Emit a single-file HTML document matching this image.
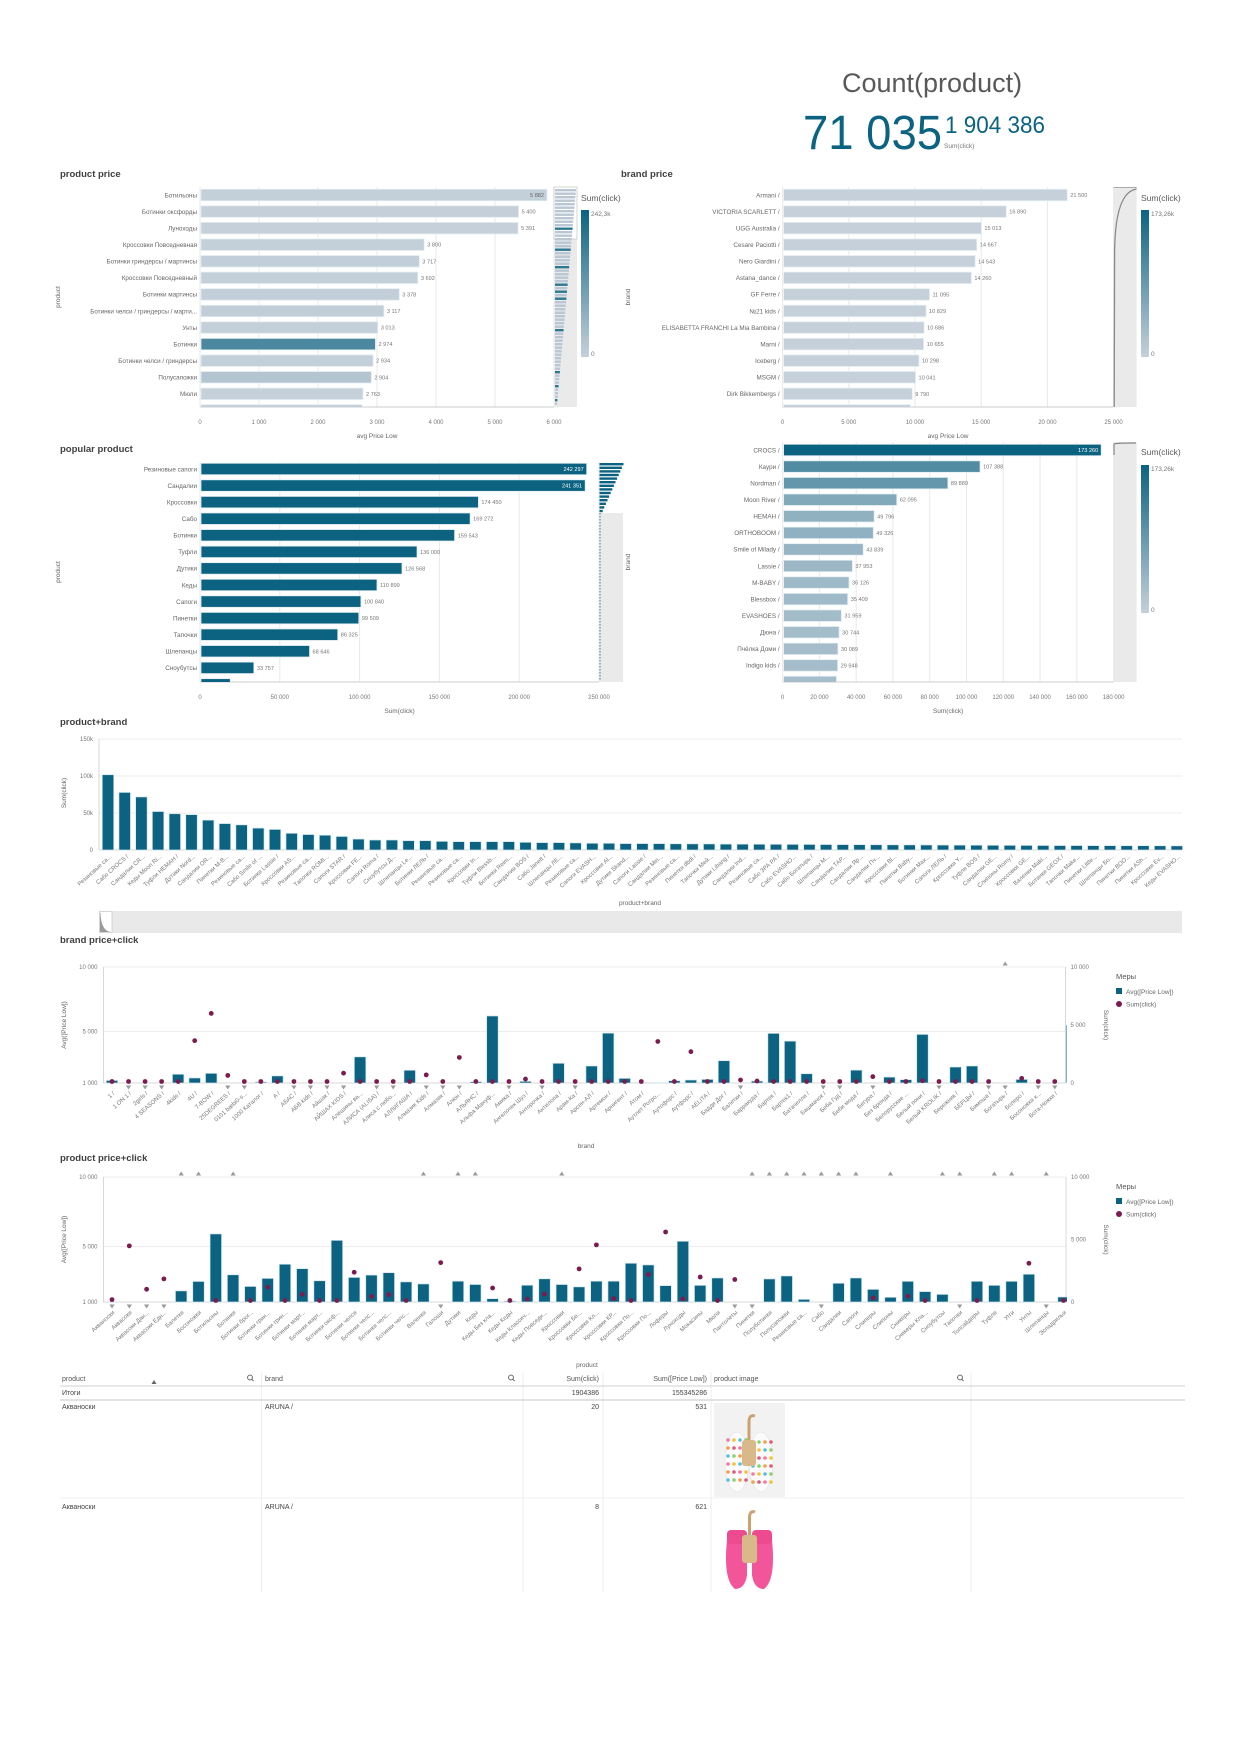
<!DOCTYPE html>
<html><head><meta charset="utf-8">
<style>
html,body{margin:0;padding:0;background:#fff;}
svg{display:block;font-family:"Liberation Sans","Noto Sans CJK SC",sans-serif;}
</style></head>
<body>
<svg id="dash" width="1240" height="1754" viewBox="0 0 1240 1754" xmlns="http://www.w3.org/2000/svg">
<defs>
<linearGradient id="legGrad" x1="0" y1="0" x2="0" y2="1"><stop offset="0" stop-color="#0b6381"/><stop offset="1" stop-color="#c5d0da"/></linearGradient>
</defs>
<g>
<text x="842" y="92" font-size="27" fill="#595959">Count(product)</text>
<text x="803" y="149" font-size="48" fill="#0b6381" textLength="139" lengthAdjust="spacingAndGlyphs">71 035</text>
<text x="945" y="133" font-size="24" fill="#0b6381" textLength="100" lengthAdjust="spacingAndGlyphs">1 904 386</text>
<text x="944" y="148" font-size="6.5" fill="#777">Sum(click)</text>
</g>
</svg>
<script>
// ---------- DATA ----------
const productPriceCats=["Ботильоны","Ботинки оксфорды","Луноходы","Кроссовки Повседневная","Ботинки гриндерсы / мартинсы","Кроссовки Повседневный","Ботинки мартинсы","Ботинки челси / гриндерсы / марти...","Унты","Ботинки","Ботинки челси / гриндерсы","Полусапожки","Мюли",""];
const productPriceVals=[5882,5400,5391,3800,3717,3692,3378,3117,3013,2974,2934,2904,2763,2750];
const productPriceClicks=[2000,1500,240,3000,4000,2500,3500,5000,3100,159543,2000,25000,50,3000];
const productPriceTicks=[0,1000,2000,3000,4000,5000,6000];

const brandPriceCats=["Armani /","VICTORIA SCARLETT /","UGG Australia /","Cesare Paciotti /","Nero Giardini /","Astana_dance /","GF Ferre /","№21 kids /","ELISABETTA FRANCHI La Mia Bambina /","Marni /","Iceberg /","MSGM /","Dirk Bikkembergs /",""];
const brandPriceVals=[21500,16890,15013,14667,14543,14260,11095,10829,10686,10655,10298,10041,9790,9650];
const brandPriceTicks=[0,5000,10000,15000,20000,25000];

const popularCats=["Резиновые сапоги","Сандалии","Кроссовки","Сабо","Ботинки","Туфли","Дутики","Кеды","Сапоги","Пинетки","Тапочки","Шлепанцы","Сноубутсы",""];
const popularVals=[242297,241351,174450,169272,159543,136000,126568,110899,100840,99509,86325,68646,33757,19000];
const popularTicks=[0,50000,100000,150000,200000,250000];

const brandClickCats=["CROCS /","Каури /","Nordman /","Moon River /","HEMAH /","ORTHOBOOM /","Smile of Milady /","Lassie /","M-BABY /","Blessbox /","EVASHOES /","Дюна /","Пчёлка Доми /","Indigo kids /",""];
const brandClickVals=[173260,107388,89889,62095,49796,49326,43839,37953,36126,35409,31959,30744,30089,29948,29300];
const brandClickTicks=[0,20000,40000,60000,80000,100000,120000,140000,160000,180000];

const pbCats=["Резиновые са...","Сабо CROCS /","Сандалии CR...","Кеды Moon Ri...","Туфли HEMAH /","Дутики Nord...","Сандалии OR...","Пинетки M-B...","Резиновые са...","Сабо Smile of ...","Ботинки Lassie /","Кроссовки AS...","Резиновые са...","Тапочки ROMI...","Сапоги STAR /","Кроссовки FE...","Сапоги Roma /","Сноубутсы Д...","Шлепанцы Le...","Ботинки ЛЕЛЬ /","Резиновые са...","Резиновые са...","Кроссовки In...","Туфли Blessb...","Ботинки Reim...","Сандалии BOS /","Сабо Janett /","Шлепанцы ЛЕ...","Резиновые са...","Сапоги EVASH...","Кроссовки Al...","Дутики Skand...","Сапоги Lassie /","Сандалии Min...","Резиновые са...","Пинетки dbdi /","Тапочки Мей...","Дутики Libang /","Сандалии Ind...","Резиновые са...","Сабо ЗРА РА /","Сабо EVASHO...","Сабо Богатырь /","Шлепанцы M...","Сандалии ТАР...","Сандалии Яр...","Сандалии Пч...","Кроссовки Bl...","Пинетки Baby...","Ботинки Max...","Сапоги ЛЕЛЬ /","Кроссовки Y...","Туфли BOS /","Сандалии GE...","Слипоны Romy /","Кроссовки GE...","Валенки Maki...","Ботинки GEOX /","Тапочки Make...","Пинетки Little...","Шлепанцы Бо...","Пинетки BOO...","Пинетки ASh...","Кроссовки Ev...","Кеды EVASHO..."];
const pbVals=[101.7,77.8,71.7,52,49,47.8,40.4,35.7,34,29.6,27.8,22.6,20.9,20,18.3,14.8,13.5,13.5,12.6,12.6,11.7,11.3,11.3,11.3,11.3,10.4,10,10,9.6,9.1,9.1,8.7,8.7,8.6,8.4,8.3,8.2,8.0,7.9,7.8,7.7,7.6,7.5,7.4,7.3,7.2,7.1,7.0,6.9,6.8,6.7,6.6,6.5,6.4,6.3,6.2,6.1,6.0,6.0,5.9,5.9,5.8,5.8,5.7,5.6];
const pbTicks=[0,50,100,150];
const pbTickLabels=["0","50k","100k","150k"];

const bcCats=["1 /","1 ON 1 /","2girls /","4 SEASONS /","4kids /","4U /","7-BOW /","25DEGREES /","0101 bæbi0-s...","1000 Каталог /","A /","АБАС /","АБВ kids /","Айшак /","АЙШАХ KIDS /","Алёшины ва...","АЛИСА (ALISA) /","Алиса с любо...","АЛЛИГАША /","Алмазик Kids /","Алмазик /","Алюн /","АЛЬЯНС /","Альфа Мануф...","Амика /","Ангелочек Шуз /","Анторочка /","Антилопа /","Арам-Ка /","Арсен-АЛ /","Артемон /","Арнигент /","Атом /","Аутлет Ротро...","Аутофорс /","Аутфорс /","AELITA /","Бадди Дог /","Балетки /","Барракуда /","Бартек /","Бартек1 /","Батачелли /","Башмачок /","Беба Гуд /","Беби мода /","Бегура /","Без бренда /","Белорусские ...","Белый пони /","Белый KROLIK /","Бережник /","БЕРЦЫ /","Бимоша /","Богатырь /","Болеро /","Босоножки к...","Бота-Ножки /",""];
const bcPrice=[1200,500,500,500,1680,1390,1750,500,500,1080,1550,500,500,500,500,3030,500,500,1990,500,500,500,1100,6200,500,1130,500,2530,500,2320,4870,1360,1050,1020,1180,1230,1280,2730,500,1150,4850,4250,1720,500,500,2000,500,1460,1260,4770,500,2240,2320,500,500,1280,500,500,5500];
const bcClicks=[100,50,50,50,50,3650,6000,650,50,50,50,50,50,50,850,50,50,50,50,700,50,2200,50,50,50,340,50,50,50,50,50,50,50,3580,50,2700,50,50,260,170,50,50,50,50,50,50,550,50,50,200,50,50,50,50,12000,400,50,50,50];

const ppCats=["Акваноски","Аквасоки","Аквасоки Дан...","Аквасоки Едн...","Балетки","Босоножки","Ботильоны","Ботинки","Ботинки брог...","Ботинки грин...","Ботинки грин...","Ботинки март...","Ботинки март...","Ботинки оксф...","Ботинки челси","Ботинки челс...","Ботинки челс...","Ботинки челс...","Валенки","Галоши","Дутики","Кеды","Кеды Без кла...","Кеды Кеды","Кеды Классич...","Кеды Повседн...","Кроссовки","Кроссовки Бе...","Кроссовки Кл...","Кроссовки КР...","Кроссовки По...","Кроссовки По...","Лоферы","Луноходы","Мокасины","Мюли","Пантолеты","Пинетки","Полуботинки","Полусапожки","Резиновые са...","Сабо","Сандалии","Сапоги","Слиперы","Слипоны","Сникеры","Сникеры Кла...","Сноубутсы","Тапочки","Топсайдеры","Туфли","Угги","Унты","Шлепанцы","Эспадрильи"];
const ppPrice=[500,500,500,500,1800,2480,5900,2960,2120,2700,3720,3400,2530,5440,2770,2940,3110,2450,2300,500,2500,2260,1240,1070,2210,2670,2260,2090,2500,2500,3790,3670,2180,5375,2200,2730,500,500,2660,2875,1190,500,2350,2730,1910,1340,2490,1750,1550,500,2490,2200,2490,3000,500,1360];
const ppClicks=[190,4490,1020,1850,15000,18000,30,159543,30,1200,30,615,30,30,2380,450,590,60,20000,3150,126568,110899,1120,40,240,640,174450,2650,4570,270,30,2200,5600,240,2000,50,1800,99509,12000,25000,242297,169272,241351,100840,320,14000,460,60,33757,86325,50,136000,15000,3100,68646,100];
const comboLeftTicks=[1000,5000,10000];
const comboRightTicks=[0,5000,10000];

// ---------- HELPERS ----------
const NS="http://www.w3.org/2000/svg";
const svg=document.getElementById('dash');
function mk(tag,attrs,parent){const e=document.createElementNS(NS,tag);for(const k in attrs)e.setAttribute(k,attrs[k]);(parent||svg).appendChild(e);return e;}
function txt(x,y,s,size,fill,anchor,parent){const t=mk('text',{x:x,y:y,'font-size':size,fill:fill,'text-anchor':anchor||'start'},parent);t.textContent=s;return t;}
function fmt(n){return String(Math.round(n)).replace(/\B(?=(\d{3})+(?!\d))/g,' ');}
function mix(t){t=Math.max(0,Math.min(1,t));const a=[197,208,218],b=[11,99,129];return 'rgb('+a.map((v,i)=>Math.round(v+(b[i]-v)*t)).join(',')+')';}
let clipN=0;
function clipRect(x,y,w,h){const id='cp'+(clipN++);const cp=mk('clipPath',{id:id},svg.querySelector('defs'));mk('rect',{x:x,y:y,width:w,height:h},cp);return 'url(#'+id+')';}

function title(x,y,s,name){const t=txt(x,y,s,9.5,'#404040','start');t.setAttribute('font-weight','bold');

}

function legend(x,yTitle,yTop,yBot,maxLabel){
 const g=mk('g',{});
 
 
 const t=txt(x,yTitle,'Sum(click)',8.5,'#595959','start',g);
 
 
 const r=mk('rect',{x:x,y:yTop,width:8,height:yBot-yTop,fill:'url(#legGrad)'},g);
 
 
 const a=txt(x+10,yTop+6,maxLabel,6.5,'#777','start',g);
 
 
 const b=txt(x+10,yBot-1,'0',6.5,'#777','start',g);
 
 
}

function hbar(c){
 const g=mk('g',{});
 
 
 const sx=v=>c.x0+(v/c.max)*(c.x1-c.x0);
 c.ticks.forEach(t=>{
  const l=mk('line',{x1:sx(t),x2:sx(t),y1:c.top,y2:c.bottom,stroke:'#e8e8e8','stroke-width':1},g);
  
  
  const tl=txt(sx(t),c.tickY,fmt(t),6,'#777','middle',g);
  
  
 });
 const ax=mk('line',{x1:c.x0,x2:c.x1,y1:c.bottom,y2:c.bottom,stroke:'#ccc'},g);
 
 
 const xt=txt((c.x0+c.x1)/2,c.tickY+14,c.xTitle,6.5,'#666','middle',g);
 
 
 const yt=txt(c.yTitleX,c.yTitleY,c.yTitle,6.5,'#666','middle',g);
 yt.setAttribute('transform','rotate(-90 '+c.yTitleX+' '+c.yTitleY+')');
 
 
 const bars=mk('g',{'clip-path':clipRect(c.x0-200,c.top,c.x1-c.x0+260,c.bottom-c.top)},g);
 c.cats.forEach((cat,i)=>{
  const v=c.vals[i];const cy=c.y0+i*c.step;
  const r=mk('rect',{x:c.x0+1,y:cy-c.barH/2,width:sx(v)-c.x0-1,height:c.barH,fill:c.color(i),stroke:'#e4eef2','stroke-width':0.8},bars);
  
  
  if(cat){
   const cl=txt(c.x0-3,cy+2.3,cat,6.3,'#666','end',bars);
   
   
   const inside=v/c.max>c.insideAt;
   const vl=txt(inside?sx(v)-3:sx(v)+3,cy+2,fmt(v),5.6,inside?c.insideColor:'#777',inside?'end':'start',bars);
   
   
  }
 });
}

function combo(c){
 const g=mk('g',{});
 
 
 const yl=v=>c.base-(v-1000)/9000*(c.base-c.top);
 const yr=v=>c.rBase-(v/10000)*(c.rBase-c.top);
 const cx=i=>c.x0+i*c.step;
 comboLeftTicks.forEach(t=>{
  const l=mk('line',{x1:c.left,x2:c.right,y1:yl(t),y2:yl(t),stroke:t===1000?'#d8d8d8':'#ececec'},g);
  
  
  const tl=txt(c.left-6,yl(t)+2,fmt(t),6,'#777','end',g);
  
  
 });
 comboRightTicks.forEach(t=>{
  const tl=txt(c.right+5,yr(t)+2,fmt(t),6,'#777','start',g);
  
  
 });
 const la=mk('line',{x1:c.left,x2:c.left,y1:c.top,y2:c.base,stroke:'#d8d8d8'},g);
 
 
 const ra=mk('line',{x1:c.right,x2:c.right,y1:c.top,y2:c.base,stroke:'#d8d8d8'},g);
 
 
 const lt=txt(66,(c.top+c.base)/2,'Avg([Price Low])',6.5,'#666','middle',g);
 lt.setAttribute('transform','rotate(-90 66 '+((c.top+c.base)/2)+')');
 
 
 const rt=txt(1104,(c.top+c.base)/2,'Sum(click)',6.5,'#666','middle',g);
 rt.setAttribute('transform','rotate(90 1104 '+((c.top+c.base)/2)+')');
 
 
 if(c.xTitle){
  const xt=txt(586,c.xTitleY,c.xTitle,6.5,'#666','middle',g);
  
  
 }
 const clip=clipRect(c.left,c.top-8,c.right-c.left+1,c.base-c.top+16);
 const marks=mk('g',{'clip-path':clip},g);
 c.cats.forEach((cat,i)=>{
  const x=cx(i);const v=c.price[i];
  if(v>=1000){
   const top=yl(Math.min(v,10000));
   const r=mk('rect',{x:x-c.barW/2,y:top,width:c.barW,height:c.base-top,fill:'#0b6381',stroke:'#cfe6ee','stroke-width':0.7},marks);
   
   
  } else if(x<c.right){
   const tr=mk('path',{d:'M'+(x-2.6)+' '+(c.base+2.5)+'L'+(x+2.6)+' '+(c.base+2.5)+'L'+x+' '+(c.base+6.5)+'Z',fill:'#9a9a9a'},g);
   
   
  }
  const d=c.clicks[i];
  if(x<c.right){
   if(d>10000){
    const up=mk('path',{d:'M'+(x-2.6)+' '+(c.top-1.5)+'L'+(x+2.6)+' '+(c.top-1.5)+'L'+x+' '+(c.top-5.5)+'Z',fill:'#9a9a9a'},g);
    
    
   } else {
    const dt=mk('circle',{cx:x,cy:Math.min(yr(d),c.base-1.5),r:2.4,fill:'#7b1c4f'},marks);
    
    
   }
   if(cat){
    const ly=c.base+11;
    const cl=txt(x+3,ly,cat,6,'#777','end',g);
    cl.setAttribute('transform','rotate(-42 '+(x+3)+' '+ly+')');
    
    
   }
  }
 });
 const lg=mk('g',{},g);
 
 
 const m=txt(1116,c.legY,'Меры',7.5,'#555','start',lg);
 
 
 const sq=mk('rect',{x:1116,y:c.legY+9,width:6,height:6,fill:'#0b6381'},lg);
 
 
 const l1=txt(1126,c.legY+15,'Avg([Price Low])',6.5,'#666','start',lg);
 
 
 const ci=mk('circle',{cx:1119,cy:c.legY+25,r:3,fill:'#7b1c4f'},lg);
 
 
 const l2=txt(1126,c.legY+27.5,'Sum(click)',6.5,'#666','start',lg);
 
 
}

// ---------- PRODUCT PRICE ----------
title(60,177,'product price','product-price-title');
hbar({name:'product-price-chart',x0:200,x1:554,max:6000,ticks:productPriceTicks,top:187,bottom:407,tickY:424,y0:195,step:16.57,barH:11.5,
 cats:productPriceCats,vals:productPriceVals,color:i=>mix(productPriceClicks[i]/242297),insideAt:0.95,insideColor:'#666',
 xTitle:'avg Price Low',yTitle:'product',yTitleX:60,yTitleY:297});
(function(){const g=mk('g',{});
 
 
 const bg=mk('rect',{x:554,y:187,width:23,height:220,fill:'#eaeaea'},g);
 
 
 const vp=mk('rect',{x:554,y:187,width:23,height:52,fill:'#fff',stroke:'#bbb','stroke-width':0.6},g);
 
 
 for(let i=0;i<62;i++){const w=Math.max(2,21-i*0.31);const dark=[11,17,22,27,29,31,40,52,56,60].includes(i);
  const r=mk('rect',{x:555,y:189+i*3.5,width:w,height:2.4,fill:dark?'#2c7892':'#b8c7d3'},g);
  
  }
})();
legend(581,201,210,357,'242,3k');

// ---------- BRAND PRICE ----------
title(621,177,'brand price','brand-price-title');
hbar({name:'brand-price-chart',x0:782.6,x1:1113.6,max:25000,ticks:brandPriceTicks,top:187,bottom:407,tickY:424,y0:195,step:16.57,barH:11.5,
 cats:brandPriceCats,vals:brandPriceVals,color:i=>'#c5d0da',insideAt:2,insideColor:'#fff',
 xTitle:'avg Price Low',yTitle:'brand',yTitleX:630,yTitleY:297});
(function(){const g=mk('g',{});
 
 
 const bg=mk('rect',{x:1113.6,y:187,width:23,height:220,fill:'#eaeaea'},g);
 
 
 const p=mk('path',{d:'M1114.2 407 L1114.6 250 Q1115.5 192 1136.6 189',fill:'none',stroke:'#8a8a8a','stroke-width':1.3},g);
 
 
 const t=mk('line',{x1:1113.6,x2:1136.6,y1:187.5,y2:187.5,stroke:'#aaa','stroke-width':1},g);
 
 
})();
legend(1141,201,210,357,'173,26k');

// ---------- POPULAR PRODUCT ----------
title(60,452,'popular product','popular-product-title');
hbar({name:'popular-product-chart',x0:200,x1:599,max:250000,ticks:popularTicks,top:462,bottom:682,tickY:699,y0:469,step:16.57,barH:11.5,
 cats:popularCats,vals:popularVals,color:i=>'#0b6381',insideAt:0.9,insideColor:'#fff',
 xTitle:'Sum(click)',yTitle:'product',yTitleX:60,yTitleY:572});
(function(){const g=mk('g',{});
 
 
 const bg=mk('rect',{x:599,y:513,width:24,height:169,fill:'#eaeaea'},g);
 
 
 for(let i=0;i<14;i++){const r=mk('rect',{x:599.5,y:463+i*3.6,width:Math.max(1.5,24-i*1.6),height:2.4,fill:'#0b6381'},g);
  
  }
 const dl=mk('line',{x1:600,x2:600,y1:513,y2:680,stroke:'#0b6381','stroke-dasharray':'1.5 1.5','stroke-width':0.8},g);
 
 
})();

// ---------- BRAND CLICKS ----------
hbar({name:'brand-clicks-chart',x0:782.6,x1:1113.6,max:180000,ticks:brandClickTicks,top:442,bottom:682,tickY:699,y0:450,step:16.57,barH:11.5,
 cats:brandClickCats,vals:brandClickVals,color:i=>mix(brandClickVals[i]/173260),insideAt:0.9,insideColor:'#fff',
 xTitle:'Sum(click)',yTitle:'brand',yTitleX:630,yTitleY:562});
(function(){const g=mk('g',{});
 
 
 const bg=mk('rect',{x:1113.6,y:442,width:23,height:240,fill:'#eaeaea'},g);
 
 
 const p=mk('path',{d:'M1114 455 L1114 444 Q1116 443 1136 443',fill:'none',stroke:'#888','stroke-width':1.2},g);
 
 
})();
legend(1141,455,465,613,'173,26k');

// ---------- PRODUCT+BRAND ----------
title(60,725,'product+brand','product-brand-title');
(function(){
 const g=mk('g',{});
 
 
 const x0=108,step=16.7,base=850,top=739,bw=11.5;
 const sy=v=>base-(v/150)*(base-top);
 pbTicks.forEach((t,i)=>{
  const l=mk('line',{x1:99,x2:1182,y1:sy(t),y2:sy(t),stroke:t===0?'#d8d8d8':'#ececec'},g);
  
  
  const tl=txt(93,sy(t)+2,pbTickLabels[i],6,'#777','end',g);
  
  
 });
 const ax=mk('line',{x1:99,x2:99,y1:top,y2:base,stroke:'#d8d8d8'},g);
 
 
 const yt=txt(66,793,'Sum(click)',6.5,'#666','middle',g);
 yt.setAttribute('transform','rotate(-90 66 793)');
 
 
 pbCats.forEach((cat,i)=>{
  const x=x0+i*step;const v=pbVals[i];
  const r=mk('rect',{x:x-bw/2,y:sy(v),width:bw,height:base-sy(v),fill:'#0b6381',stroke:'#cfe6ee','stroke-width':0.7},g);
  
  
  const cl=txt(x+4,857,cat,6,'#777','end',g);
  cl.setAttribute('transform','rotate(-42 '+(x+4)+' 857)');
  
  
 });
 const xt=txt(640,905,'product+brand',6.5,'#666','middle',g);
 
 
 const sb=mk('rect',{x:99,y:911,width:1083,height:22,fill:'#e9e9e9'},g);
 
 
 const th=mk('rect',{x:99.5,y:911.5,width:12.5,height:21,fill:'#fff',stroke:'#ccc','stroke-width':0.8},g);
 
 
 const sp=mk('path',{d:'M100 913 L100 932 L111 932 Q101 931 100.5 913 Z',fill:'#999'},g);
 
 
})();

// ---------- BRAND PRICE+CLICK ----------
title(60,943,'brand price+click','brand-price-click-title');
combo({name:'brand-price-click-chart',cats:bcCats,price:bcPrice,clicks:bcClicks,x0:112,step:16.54,barW:11.5,left:103.5,right:1065.5,
 top:967,base:1083,rBase:1083,xTitle:'brand',xTitleY:1148,legY:979});

// ---------- PRODUCT PRICE+CLICK ----------
title(60,1161,'product price+click','product-price-click-title');
combo({name:'product-price-click-chart',cats:ppCats,price:ppPrice,clicks:ppClicks,x0:112,step:17.3,barW:11.5,left:103.5,right:1066,
 top:1177,base:1302,rBase:1302,xTitle:'',xTitleY:1367,legY:1189});

// ---------- TABLE ----------
(function(){
 const g=mk('g',{});
 
 
 const cols=[261.6,523,603,711,971];
 cols.forEach(x=>{const l=mk('line',{x1:x,x2:x,y1:1372,y2:1592,stroke:'#eeeeee'},g);
  
  });
 [[1386,'#d9d9d9',1.2],[1400,'#d9d9d9',1.5],[1498,'#f0f0f0',1]].forEach(r=>{const l=mk('line',{x1:60,x2:1185,y1:r[0],y2:r[0],stroke:r[1],'stroke-width':r[2]},g);
  
  });
 const hd=[[62,'product','start'],[265,'brand','start'],[599,'Sum(click)','end'],[707,'Sum([Price Low])','end'],[714,'product image','start']];
 hd.forEach(h=>{const t=txt(h[0],1381,h[1],7,'#555',h[2],g);
  
  });
 const tp=txt(587,1367,'product',6.5,'#666','middle',g);
 
 
 const sort=mk('path',{d:'M151.5 1384 L156.5 1384 L154 1380 Z',fill:'#666'},g);
 
 
 [250,511,960].forEach(x=>{const s=mk('g',{},g);
  
  
  mk('circle',{cx:x,cy:1377.5,r:2.4,fill:'none',stroke:'#555','stroke-width':0.9},s);
  mk('line',{x1:x+1.7,y1:1379.2,x2:x+3.6,y2:1381.1,stroke:'#555','stroke-width':0.9},s);});
 const rows=[[1395,'Итоги','','1904386','155345286'],[1409,'Акваноски','ARUNA /','20','531'],[1509,'Акваноски','ARUNA /','8','621']];
 rows.forEach((r,i)=>{
  const a=txt(62,r[0],r[1],7,'#444','start',g);
  
  
  const b=txt(265,r[0],r[2],7,'#444','start',g);
  
  
  const c=txt(599,r[0],r[3],7,'#444','end',g);
  
  
  const d=txt(707,r[0],r[4],7,'#444','end',g);
  
  
 });
 const i1=mk('g',{},g);
 
 
 mk('rect',{x:714,y:1403,width:71,height:94,fill:'#f2f2f2'},i1);
 mk('ellipse',{cx:737,cy:1462,rx:12,ry:30,fill:'#fbfbfb',stroke:'#ddd','stroke-width':0.5},i1);
 mk('ellipse',{cx:761,cy:1462,rx:12,ry:30,fill:'#fbfbfb',stroke:'#ddd','stroke-width':0.5},i1);
 const cols1=['#f07aa0','#f6c23a','#5bc0de','#8bd16a','#f0a050','#e05a7a'];
 for(let k=0;k<24;k++){mk('circle',{cx:728+(k%4)*6,cy:1440+Math.floor(k/4)*8,r:1.8,fill:cols1[k%6]},i1);}
 for(let k=0;k<24;k++){mk('circle',{cx:753+(k%4)*6,cy:1442+Math.floor(k/4)*8,r:1.8,fill:cols1[(k+2)%6]},i1);}
 mk('rect',{x:742,y:1440,width:14,height:26,rx:3,fill:'#d9b98a'},i1);
 mk('path',{d:'M749 1440 L749 1422 Q749 1414 755 1416',fill:'none',stroke:'#c9a270','stroke-width':3},i1);
 const i2=mk('g',{},g);
 
 
 mk('rect',{x:714,y:1507,width:71,height:84,fill:'#fff'},i2);
 mk('path',{d:'M727 1540 Q723 1580 735 1589 Q745 1589 747 1575 L747 1540 Z',fill:'#f2559a'},i2);
 mk('path',{d:'M752 1540 L752 1575 Q754 1589 764 1589 Q776 1580 772 1540 Z',fill:'#f2559a'},i2);
 mk('rect',{x:727,y:1530,width:20,height:14,rx:4,fill:'#ee4a90'},i2);
 mk('rect',{x:752,y:1530,width:20,height:14,rx:4,fill:'#ee4a90'},i2);
 mk('rect',{x:742,y:1535,width:15,height:28,rx:3,fill:'#d9b98a'},i2);
 mk('path',{d:'M749.5 1535 L749.5 1518 Q749.5 1510 755 1512',fill:'none',stroke:'#c9a270','stroke-width':3},i2);
})();
</script>
</body></html>
